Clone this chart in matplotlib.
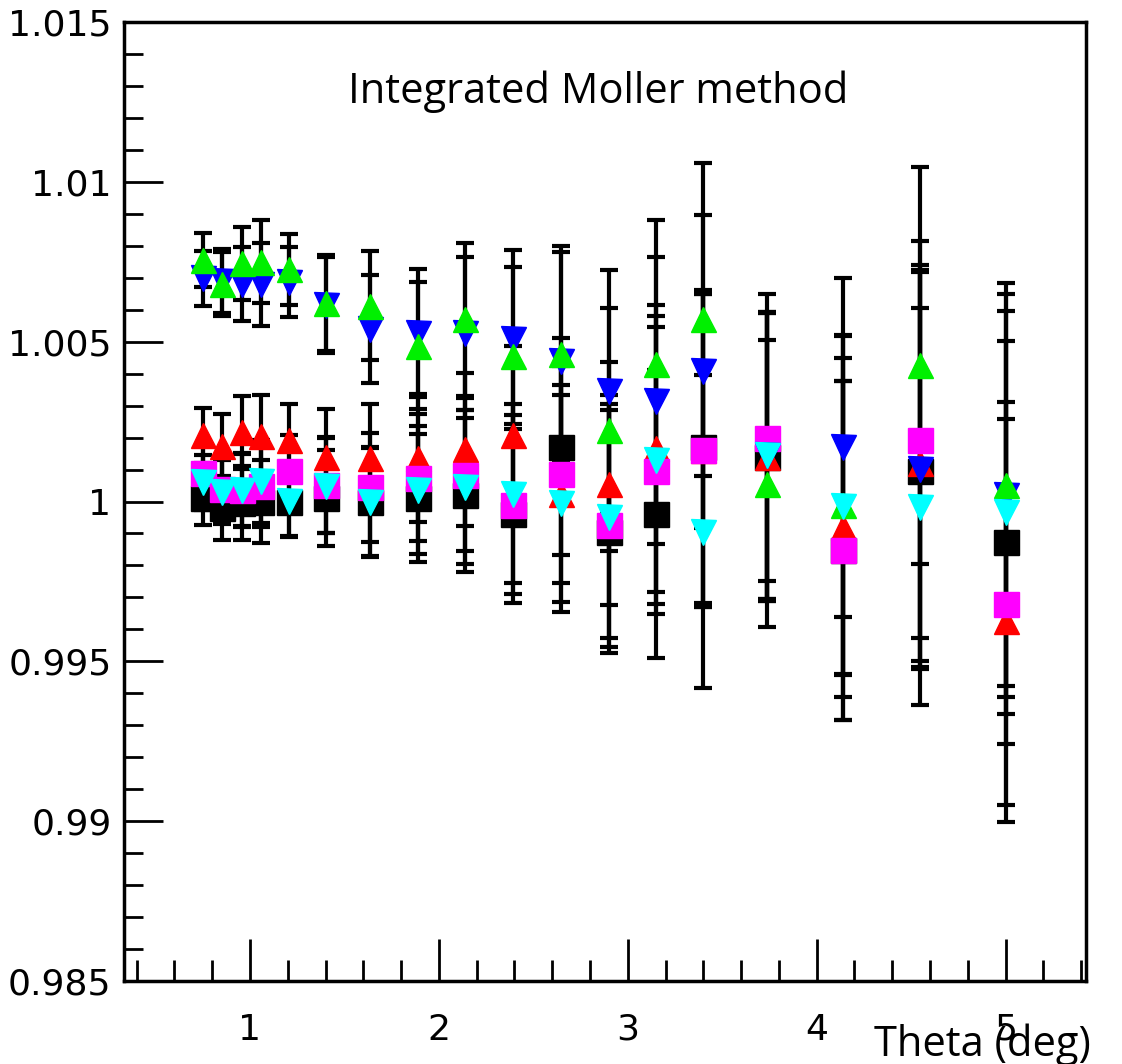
import numpy as np
import matplotlib.pyplot as plt
from matplotlib.ticker import MultipleLocator

# bin centres (deg)
theta = [0.75, 0.85, 0.96, 1.06, 1.205, 1.405, 1.635, 1.89, 2.14, 2.39,
         2.645, 2.9, 3.15, 3.4, 3.735, 4.14, 4.545, 5.0]

# ratios for each series
black = [1.0001, 0.9998, 0.99995, 1.0, 1.0, 1.00012, 1.0, 1.0001, 1.0002, 0.99962,
         1.00172, 0.99906, 0.9996, 1.00172, 1.0014, 0.99847, 1.00097, 0.99872]
red = [1.00207, 1.00175, 1.00216, 1.00204, 1.00194, 1.0014, 1.00135, 1.00135, 1.00163, 1.00207,
       1.00025, 1.00056, 1.00166, 1.0016, 1.0014, 0.9992, 1.0012, 0.99627]
magenta = [1.0009, 1.0004, 1.00037, 1.0005, 1.00097, 1.00053, 1.00044, 1.00075, 1.00084, 0.9999,
           1.00085, 0.99925, 1.00097, 1.0016, 1.002, 0.99847, 1.00194, 0.9968]
blue = [1.00698, 1.0069, 1.0068, 1.0068, 1.00686, 1.00614, 1.0054, 1.00526, 1.00526, 1.00507,
        1.0044, 1.00345, 1.00316, 1.00407, 1.00144, 1.0017, 1.00103, 1.0002]
green = [1.00755, 1.0068, 1.00745, 1.0075, 1.00726, 1.0062, 1.00613, 1.00488, 1.0057, 1.00454,
         1.0046, 1.00225, 1.0043, 1.0057, 1.00056, 0.9999, 1.00426, 1.00053]
cyan = [1.0006, 1.0003, 1.00035, 1.00063, 1.00003, 1.0005, 0.99997, 1.00037, 1.00045, 1.00025,
        0.99994, 0.99953, 1.0013, 0.99906, 1.00144, 0.99987, 0.99984, 0.99966]

# statistical error per bin (same for all series)
err = [0.00085, 0.001, 0.00115, 0.0013, 0.0011, 0.0015, 0.0017, 0.002, 0.0024, 0.0028,
       0.0034, 0.0038, 0.0045, 0.0049, 0.0045, 0.0053, 0.0062, 0.0063]

series = [(black, 's', 'black'),
          (red, '^', 'red'),
          (magenta, 's', 'magenta'),
          (blue, 'v', 'blue'),
          (green, '^', '#00f000'),
          (cyan, 'v', 'cyan')]

fig = plt.figure(figsize=(11.22, 10.64), dpi=100)
ax = fig.add_axes([0.1105, 0.078, 0.857, 0.9013])

for vals, mk, col in series:
    ax.errorbar(theta, vals, yerr=err, fmt=mk, color=col, ms=18, mec=col,
                ecolor='black', elinewidth=3, capsize=6.5, capthick=3)

ax.set_xlim(0.333, 5.423)
ax.set_ylim(0.985, 1.015)

ax.xaxis.set_major_locator(MultipleLocator(1))
ax.xaxis.set_minor_locator(MultipleLocator(0.2))
ax.yaxis.set_minor_locator(MultipleLocator(0.001))
ax.set_yticks([0.985, 0.99, 0.995, 1.0, 1.005, 1.01, 1.015])
ax.set_yticklabels(['0.985', '0.99', '0.995', '1', '1.005', '1.01', '1.015'])

ax.tick_params(which='both', direction='in', top=False, right=False, width=2,
               labelsize=26)
ax.tick_params(axis='y', which='major', length=28, pad=9)
ax.tick_params(axis='y', which='minor', length=14)
ax.tick_params(axis='x', which='major', length=30, pad=23)
ax.tick_params(axis='x', which='minor', length=15)
for s in ax.spines.values():
    s.set_linewidth(2.5)

ax.text(0.493, 0.927, 'Integrated Moller method', transform=ax.transAxes,
        ha='center', va='center', fontsize=30, family='Open Sans')
fig.text(0.972, -0.002, 'Theta (deg)', ha='right', va='bottom',
         fontsize=30, family='Open Sans')

fig.savefig('out.png', dpi=100)
